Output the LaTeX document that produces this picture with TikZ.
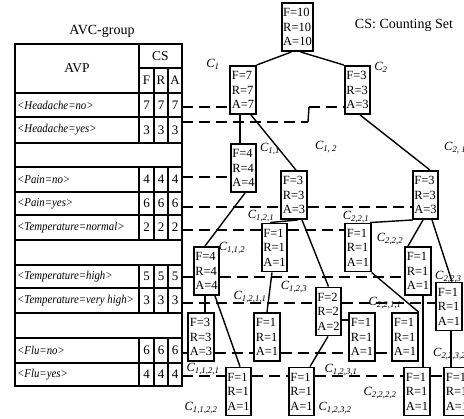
\documentclass[tikz,border=0pt]{standalone}
\usepackage{fontspec}
\setmainfont{Liberation Serif}
\newfontfamily\rowfont[FakeStretch=0.9]{Liberation Serif}
\newcommand\Clab[1]{C\textsubscript{#1}}
\begin{document}
\begin{tikzpicture}[x=1pt,y=-1pt,
  cb/.style={draw, line width=1.9pt, align=left, inner xsep=1.5pt, inner ysep=1pt,
    minimum height=48pt, font=\fontsize{12.5}{14.5}\selectfont},
  lab/.style={font=\fontsize{12.5}{14}\selectfont\itshape, inner sep=0pt},
  lk/.style={line width=1.4pt},
  dl/.style={line width=1.7pt, dash pattern=on 11pt off 6pt},
  tl/.style={line width=1.8pt},
  rowt/.style={anchor=west, inner sep=0pt, font=\rowfont\fontsize{12}{13}\selectfont\itshape},
  num/.style={inner sep=0pt, font=\fontsize{13}{14}\selectfont},
  ttl/.style={inner sep=0pt, font=\fontsize{14}{16}\selectfont}]
\clip (0,0) rectangle (464,419);
% titles
\node[ttl] (avc) at (102,31) {AVC-group};
\node[ttl] (csn) at (404,25) {CS: Counting Set};
% table frame and grid
\draw[line width=1.5pt] (15,44) rectangle (182,386);
\foreach \yy in {93,117,143,167,192,215,240,265,288,313,338,363}
  \draw[tl] (15,\yy) -- (182,\yy);
\draw[tl] (139,68) -- (182,68);
\draw[tl] (139,44) -- (139,143);
\foreach \a/\b in {167/240,265/313,338/386}
  \draw[tl] (139,\a) -- (139,\b);
\foreach \xx in {154,168}{
  \draw[tl] (\xx,68) -- (\xx,143);
  \foreach \a/\b in {167/240,265/313,338/386}
    \draw[tl] (\xx,\a) -- (\xx,\b);
}
\node[num,font=\fontsize{13.5}{15}\selectfont] (avp) at (77,68.5) {AVP};
\node[num,font=\fontsize{13.5}{15}\selectfont] (cs) at (160.5,56) {CS};
\node[num] (hf) at (146.5,80.5) {F};
\node[num] (hr) at (161,80.5) {R};
\node[num] (ha) at (175,80.5) {A};
\foreach \nm/\yy/\txt/\v in {r1/105/Headache=no/7, r2/130/Headache=yes/3, r3/179.5/Pain=no/4,
   r4/203.5/Pain=yes/6, r5/227.5/Temperature=normal/2, r6/276.5/Temperature=high/5,
   r7/300.5/Temperature=very high/3, r8/350.5/Flu=no/6, r9/374.5/Flu=yes/4}{
  \node[rowt] (\nm) at (17,\yy) {<\txt>};
  \node[num] (\nm f) at (146.5,\yy) {\v};
  \node[num] (\nm r) at (161,\yy) {\v};
  \node[num] (\nm a) at (175,\yy) {\v};
}
% cluster boxes
\node[cb] (R) at (297.5,27) {F=10\\R=10\\A=10};
\node[cb] (C1) at (243,90) {F=7\\R=7\\A=7};
\node[cb] (C2) at (357.5,90) {F=3\\R=3\\A=3};
\node[cb] (C11) at (243.5,168) {F=4\\R=4\\A=4};
\node[cb] (C12) at (294,195) {F=3\\R=3\\A=3};
\node[cb] (C21) at (425.5,195) {F=3\\R=3\\A=3};
\node[cb] (C121) at (274.5,247.5) {F=1\\R=1\\A=1};
\node[cb] (C221) at (358,247.5) {F=1\\R=1\\A=1};
\node[cb] (C112) at (206.5,271) {F=4\\R=4\\A=4};
\node[cb] (C222) at (418,271) {F=1\\R=1\\A=1};
\node[cb] (C123) at (328.5,311.5) {F=2\\R=2\\A=2};
\node[cb] (C223) at (449,306.5) {F=1\\R=1\\A=1};
\node[cb] (C1121) at (201,337) {F=3\\R=3\\A=3};
\node[cb] (C1211) at (267,337) {F=1\\R=1\\A=1};
\node[cb] (C1231) at (362,337) {F=1\\R=1\\A=1};
\node[cb] (C2211) at (405,337) {F=1\\R=1\\A=1};
\node[cb] (C1122) at (238.5,391.5) {F=1\\R=1\\A=1};
\node[cb] (C1232) at (301.5,391.5) {F=1\\R=1\\A=1};
\node[cb] (C2222) at (417,391.5) {F=1\\R=1\\A=1};
\node[cb] (C2232) at (457,391.5) {F=1\\R=1\\A=1};
% labels
\node[lab] (l1) at (213,64) {\Clab{1}};
\node[lab] (l2) at (381,67) {\Clab{2}};
\node[lab] (l11) at (270,149) {\Clab{1,1}};
\node[lab] (l12) at (326,147) {\Clab{1, 2}};
\node[lab,anchor=west] (l21) at (444,148) {\Clab{2, 1}};
\node[lab] (l121) at (261,216) {\Clab{1,2,1}};
\node[lab] (l221) at (356,217) {\Clab{2,2,1}};
\node[lab] (l222) at (390,239) {\Clab{2,2,2}};
\node[lab] (l112) at (232,248) {\Clab{1,1,2}};
\node[lab] (l123) at (294,287) {\Clab{1,2,3}};
\node[lab,anchor=west] (l223) at (435,277) {\Clab{2,2,3}};
\node[lab] (l1211) at (250,297) {\Clab{1,2,1,1}};
\node[lab] (l2211) at (385,303) {\Clab{2,2,1,1}};
\node[lab] (l1121) at (203,369) {\Clab{1,1,2,1}};
\node[lab] (l1122) at (201,408) {\Clab{1,1,2,2}};
\node[lab] (l1231) at (341,370) {\Clab{1,2,3,1}};
\node[lab] (l1232) at (335,408) {\Clab{1,2,3,2}};
\node[lab] (l2222) at (380,393) {\Clab{2,2,2,2}};
\node[lab,anchor=west] (l2232) at (433,354) {\Clab{2,2,3,2}};
% tree connectors
\draw[lk] ([xshift=-6pt]R.south) -- (C1.north east);
\draw[lk] ([xshift=3pt]R.south) -- (C2.north west);
\draw[lk] ([xshift=-3pt]C1.south) -- ([xshift=-3.5pt]C11.north);
\draw[lk] ([xshift=8pt]C1.south) -- ([xshift=2pt]C12.north);
\draw[lk] ([xshift=2.5pt]C2.south) -- ([xshift=4.5pt]C21.north);
\draw[lk] ([xshift=1.5pt]C11.south) -- ([xshift=-1.5pt]C112.north);
\draw[lk] ([xshift=4pt]C12.south) -- ([xshift=-4.5pt]C121.north);
\draw[lk] ([xshift=8pt]C12.south) -- (C123.north);
\draw[lk] ([xshift=-12.5pt]C21.south) -- ([xshift=12pt]C221.north);
\draw[lk] ([xshift=-2.5pt]C21.south) -- ([xshift=-10pt]C222.north);
\draw[lk] ([xshift=6.5pt]C21.south) -- ([xshift=3pt]C223.north);
\draw[lk] ([xshift=-1.5pt]C112.south) -- ([xshift=4pt]C1121.north);
\draw[lk] ([xshift=8.5pt]C112.south) -- ([xshift=1.5pt]C1122.north);
\draw[lk] ([xshift=-2.5pt]C121.south) -- (C1211.north);
\coordinate (k15) at ([yshift=-8.5pt]C123.east);
\draw[lk] (k15) -- (k15 -| C1231.west);
\draw[lk] ([xshift=-0.5pt]C123.south) -- ([xshift=8.5pt]C1232.north);
\draw[lk] (C221.south east) -- (C2211.north east);
\draw[lk] ([xshift=5pt]C222.south) -- ([xshift=6pt]C2222.north);
\draw[lk] ([xshift=2pt]C223.south) -- ([xshift=-6pt]C2232.north);
% dashed attribute lines
\coordinate (hn) at (182,107);
\coordinate (hy) at (182,122);
\coordinate (hyA) at (308,122);
\coordinate (hyB) at (309,107);
\coordinate (pn) at (182,177);
\coordinate (py) at (182,207);
\coordinate (tn) at (182,230);
\coordinate (th) at (182,277);
\coordinate (tv) at (182,303);
\coordinate (fn) at (182,353);
\coordinate (fy) at (182,376);
\draw[dl] (hn) -- (hn -| C1.west);
\draw[dl] (hy) -- (hyA);
\draw[lk] (hyA) -- (hyB);
\draw[dl] (hyB) -- (hyB -| C2.west);
\draw[dl] (pn) -- (pn -| C11.west);
\draw[dl] (py) -- (py -| C12.west);
\draw[dl] (py -| C12.east) -- (py -| C21.west);
\draw[dl] (tn) -- (tn -| C121.west);
\draw[dl] (tn -| C121.east) -- (tn -| C221.west);
\draw[dl] (th) -- (th -| C112.west);
\draw[dl] (th -| C112.east) -- (th -| C222.west);
\draw[dl] (tv) -- (tv -| C123.west);
\draw[dl] (tv -| C123.east) -- (tv -| C223.west);
\draw[dl] (fn) -- (fn -| C1121.west);
\draw[dl] (fn -| C1121.east) -- (fn -| C1211.west);
\draw[dl] (fn -| C1211.east) -- (fn -| C1231.west);
\draw[dl] (fn -| C1231.east) -- (fn -| C2211.west);
\draw[dl] (fy) -- (fy -| C1122.west);
\draw[dl] (fy -| C1122.east) -- (fy -| C1232.west);
\draw[dl] (fy -| C1232.east) -- (fy -| C2222.west);
\draw[dl] (fy -| C2222.east) -- (fy -| C2232.west);
\end{tikzpicture}
\end{document}
